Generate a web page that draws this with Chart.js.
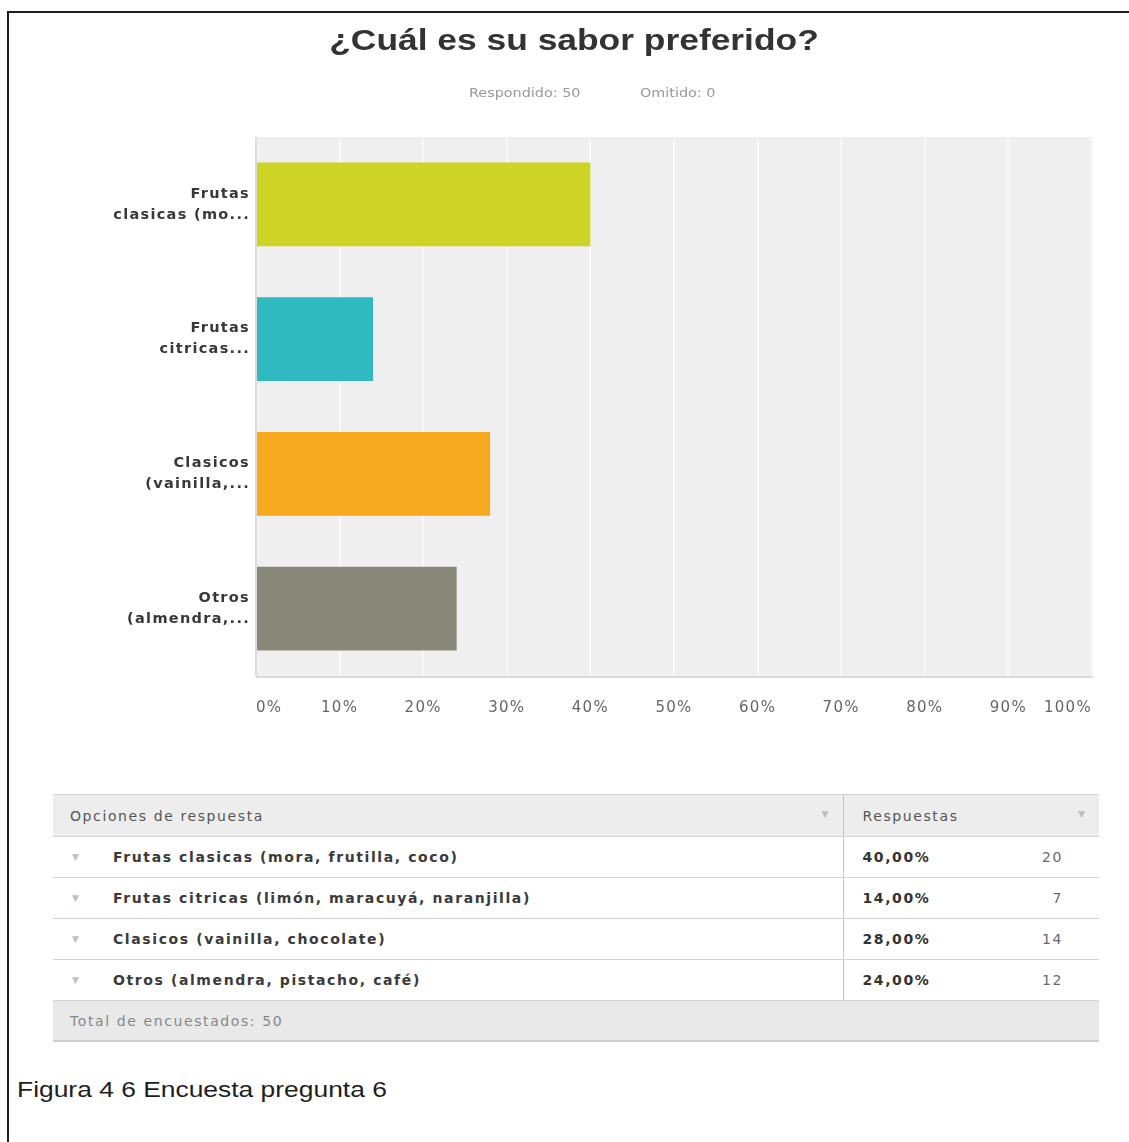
<!DOCTYPE html>
<html lang="es">
<head>
<meta charset="utf-8">
<title>¿Cuál es su sabor preferido?</title>
<script src="https://cdn.jsdelivr.net/npm/chart.js@4.4.1/dist/chart.umd.min.js"></script>
<style>
  html, body { margin: 0; padding: 0; background: #fff; }
  body { width: 1129px; height: 1142px; position: relative; overflow: hidden;
         font-family: "DejaVu Sans", Verdana, sans-serif; }
  .frame { position: absolute; left: 7px; top: 11px; right: -10px; bottom: -10px;
           border-top: 2px solid #1e1e1e; border-left: 2px solid #1e1e1e; }
  #chartBox { position: absolute; left: 0; top: 0; width: 1129px; height: 740px; }
  table.res { position: absolute; left: 53px; top: 794px; width: 1046px; border-collapse: collapse;
              font-size: 14px; letter-spacing: 1.6px; table-layout: fixed; }
  table.res th, table.res td { padding: 0; white-space: nowrap; position: relative; }
  table.res thead th { height: 41px; background: #ededed; color: #555; font-weight: normal;
                       text-align: left; border-top: 1px solid #d0d0d0; border-bottom: 1px solid #d0d0d0; }
  table.res thead th.c1 { padding-left: 17px; }
  table.res thead th.c2 { padding-left: 19px; border-left: 1px solid #c4c4c4; }
  .sort { position: absolute; right: 14px; top: 14px; font-size: 9px; color: #bdbdbd; letter-spacing: 0; }
  table.res tbody td { height: 40px; border-bottom: 1px solid #d2d2d2; }
  table.res tbody td.lab { padding-left: 60px; color: #3a3a3a; font-weight: bold; }
  table.res tbody td.lab .sort { left: 19px; right: auto; top: 15px; }
  table.res tbody td.pct { padding-left: 19px; border-left: 1px solid #c4c4c4; color: #333; font-weight: bold; }
  table.res tbody td.cnt { text-align: right; padding-right: 36px; color: #6a6a6a; }
  table.res tfoot td { height: 39px; background: #e9e9e9; color: #888; padding-left: 17px;
                       border-bottom: 2px solid #d0d0d0; }
  .caption { position: absolute; left: 17px; top: 1077px; font-family: "Liberation Sans", Arial, sans-serif;
             font-size: 22px; line-height: 26px; color: #1e1e1e; transform: scaleX(1.2); transform-origin: left center;
             white-space: nowrap; }
</style>
</head>
<body>
<div class="frame"></div>
<div id="chartBox"><canvas id="chart"></canvas></div>
<table class="res" id="resTable">
  <colgroup><col style="width:790px"><col style="width:120px"><col style="width:136px"></colgroup>
  <thead>
    <tr>
      <th class="c1">Opciones de respuesta<span class="sort">&#9660;</span></th>
      <th class="c2" colspan="2">Respuestas<span class="sort">&#9660;</span></th>
    </tr>
  </thead>
  <tbody></tbody>
  <tfoot><tr><td colspan="3" id="totalCell"></td></tr></tfoot>
</table>
<div class="caption">Figura 4 6 Encuesta pregunta 6</div>

<script>
// Survey question and answers
const questionTitle = '¿Cuál es su sabor preferido?';
const answeredCount = 50;
const skippedCount = 0;

const answerOptions = [
  'Frutas clasicas (mora, frutilla, coco)',
  'Frutas citricas (limón, maracuyá, naranjilla)',
  'Clasicos (vainilla, chocolate)',
  'Otros (almendra, pistacho, café)'
];
// Truncated labels shown beside the bars
const axisLabels = [
  ['Frutas', 'clasicas (mo...'],
  ['Frutas', 'citricas...'],
  ['Clasicos', '(vainilla,...'],
  ['Otros', '(almendra,...']
];
const percentages = [40, 14, 28, 24];
const responseCounts = [20, 7, 14, 12];

const barColors = ['#cdd426', '#30babf', '#f6a81e', '#878878'];

// Fill the response table
const tbody = document.querySelector('#resTable tbody');
answerOptions.forEach((opt, i) => {
  const tr = document.createElement('tr');
  const pct = percentages[i].toFixed(2).replace('.', ',') + '%';
  tr.innerHTML = '<td class="lab"><span class="sort">&#9660;</span>' + opt + '</td>' +
                 '<td class="pct">' + pct + '</td>' +
                 '<td class="cnt">' + responseCounts[i] + '</td>';
  tbody.appendChild(tr);
});
document.getElementById('totalCell').textContent = 'Total de encuestados: ' + answeredCount;

function stretchedText(ctx, text, x, y, font, color, sx, align) {
  ctx.save();
  ctx.font = font;
  ctx.fillStyle = color;
  ctx.textAlign = align;
  ctx.textBaseline = 'middle';
  ctx.translate(x, y);
  ctx.scale(sx, 1);
  ctx.fillText(text, 0, 0);
  ctx.restore();
}

// Grey plot panel, spaced axis lettering and the heading
const panelPlugin = {
  id: 'panel',
  beforeDraw(chart) {
    const { ctx, chartArea: a } = chart;
    ctx.save();
    ctx.fillStyle = '#efefef';
    ctx.fillRect(a.left, a.top, a.right - a.left, a.bottom - a.top);
    ctx.fillStyle = '#d9d9d9';
    ctx.fillRect(a.left, a.bottom, a.right - a.left + 1, 2);
    ctx.restore();
    ctx.letterSpacing = '1.3px';
  },
  afterDraw(chart) {
    const ctx = chart.ctx;
    ctx.letterSpacing = '0px';
    stretchedText(ctx, questionTitle, 574, 42, 'bold 29px "Liberation Sans", Arial, sans-serif', '#333', 1.22, 'center');
    stretchedText(ctx, 'Respondido: ' + answeredCount, 469, 94, '12.5px "DejaVu Sans", Verdana, sans-serif', '#999', 1.15, 'left');
    stretchedText(ctx, 'Omitido: ' + skippedCount, 640, 94, '12.5px "DejaVu Sans", Verdana, sans-serif', '#999', 1.15, 'left');
  }
};

new Chart(document.getElementById('chart'), {
  type: 'bar',
  data: {
    labels: axisLabels,
    datasets: [{
      data: percentages,
      backgroundColor: barColors,
      borderWidth: 0,
      barPercentage: 0.62,
      categoryPercentage: 1
    }]
  },
  options: {
    indexAxis: 'y',
    responsive: true,
    maintainAspectRatio: false,
    animation: false,
    layout: { padding: { top: 137, right: 37, bottom: 0, left: 0 } },
    plugins: {
      legend: { display: false },
      tooltip: { enabled: false },
      title: { display: false }
    },
    scales: {
      x: {
        type: 'linear',
        min: 0,
        max: 100,
        border: { display: false },
        grid: {
          drawTicks: false,
          lineWidth: 2,
          color: (c) => c.index === 0 ? '#dcdcdc' : '#f8f8f8'
        },
        ticks: {
          stepSize: 10,
          padding: 23,
          align: 'inner',
          color: '#666',
          font: { family: '"DejaVu Sans", Verdana, sans-serif', size: 15 },
          callback: (v) => v + '%'
        }
      },
      y: {
        border: { display: false },
        grid: { display: false, drawTicks: false },
        ticks: {
          padding: 6,
          crossAlign: 'near',
          color: '#383838',
          font: { family: '"DejaVu Sans", Verdana, sans-serif', size: 14.5, weight: 'bold', lineHeight: 1.45 }
        },
        afterFit: (scale) => { scale.width = 256; }
      }
    }
  },
  plugins: [panelPlugin]
});
</script>
</body>
</html>
